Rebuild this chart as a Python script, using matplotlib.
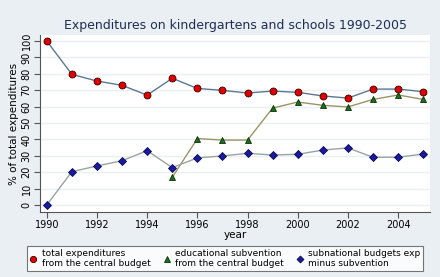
import matplotlib
matplotlib.use("Agg")
import matplotlib.pyplot as plt
from matplotlib.lines import Line2D

years = list(range(1990, 2006))
total_central = [100, 79.7, 75.6, 73.0, 67.0, 77.3, 71.1, 69.9, 68.3, 69.5, 68.7, 66.5, 65.2, 70.7, 70.7, 69.1]
subv_years = list(range(1995, 2006))
subvention = [16.9, 40.5, 39.6, 39.6, 59.1, 62.8, 60.8, 59.8, 64.4, 67.1, 64.4]
subnational = [0, 20.3, 23.8, 27.0, 33.1, 22.8, 28.7, 29.9, 31.5, 30.5, 30.9, 33.5, 34.8, 29.1, 29.1, 31.1]
yticks = list(range(0, 101, 10))
xticks = list(range(1990, 2005, 2))
labels = ["total expenditures\nfrom the central budget",
          "educational subvention\nfrom the central budget",
          "subnational budgets exp\nminus subvention"]

W, H = 440, 277
bg = "#e9eff2"
fig = plt.figure(figsize=(W/100, H/100), dpi=100, facecolor=bg)
ax = fig.add_axes([40/W, 1-212/H, 390/W, 177/H], facecolor="white")

ax.plot(years, total_central, color="#5b7893", lw=1.0, marker="o", ms=5,
        mfc="#e00000", mec="#3a0000", mew=0.6, zorder=3)
ax.plot(subv_years, subvention, color="#9a9466", lw=1.0, marker="^", ms=5,
        mfc="#1b6e1b", mec="#0a300a", mew=0.6, zorder=3)
ax.plot(years, subnational, color="#9aa3a3", lw=1.0, marker="D", ms=3.8,
        mfc="#1a1aa0", mec="#0a0a50", mew=0.6, zorder=3)

ax.set_xlim(1989.73, 2005.27)
ax.set_ylim(-4.3, 103.7)
ax.set_yticks(yticks)
ax.set_xticks(xticks)
ax.grid(axis="y", color="#eaf0f3", lw=1.0)
ax.set_axisbelow(True)
for s in ["top", "right"]:
    ax.spines[s].set_visible(False)
ax.spines["left"].set_color("#555555")
ax.spines["bottom"].set_color("#555555")
ax.tick_params(axis="both", labelsize=7, color="#555555", length=4, width=0.8, pad=2)
for lbl in ax.get_yticklabels():
    lbl.set_rotation(90)
    lbl.set_va("center")
ax.set_ylabel("% of total expenditures", fontsize=7.5, labelpad=2)
ax.set_xlabel("year", fontsize=7.5, labelpad=0)

fig.text(235/W, 1-25/H, "Expenditures on kindergartens and schools 1990-2005",
         ha="center", va="center", fontsize=9.0, color="#1e2d55")

handles = [
    Line2D([], [], ls="none", marker="o", ms=4.5, mfc="#e00000", mec="#3a0000", mew=0.6),
    Line2D([], [], ls="none", marker="^", ms=4.5, mfc="#1b6e1b", mec="#0a300a", mew=0.6),
    Line2D([], [], ls="none", marker="D", ms=3.5, mfc="#1a1aa0", mec="#0a0a50", mew=0.6),
]
leg = fig.legend(handles, labels, ncol=3, loc="center",
                 bbox_to_anchor=(225/W, 1-258.5/H), fontsize=6.5,
                 frameon=True, fancybox=False, edgecolor="#555555",
                 handlelength=0.8, handletextpad=0.5, columnspacing=1.4,
                 borderpad=0.35, labelspacing=0.2)
leg.get_frame().set_linewidth(0.8)

fig.savefig("out.png", dpi=100, facecolor=bg)
